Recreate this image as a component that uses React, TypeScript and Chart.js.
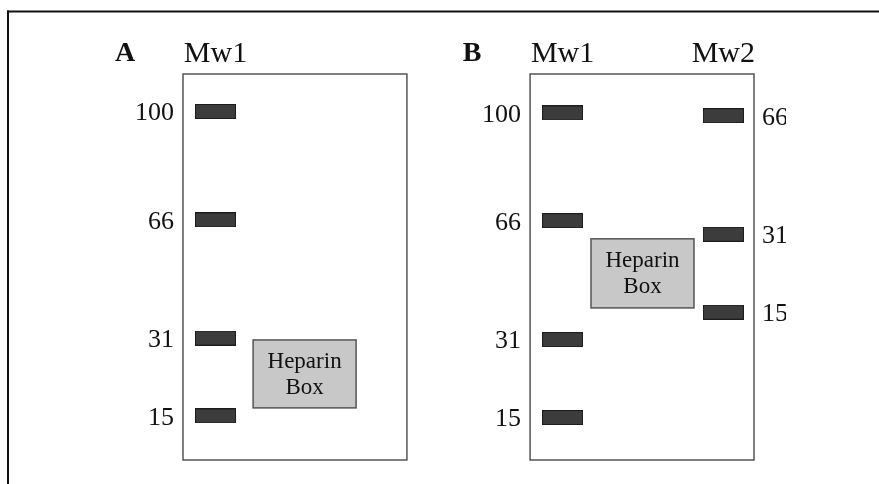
import React, { useEffect, useRef } from 'react';
import { Chart, registerables } from 'chart.js';

Chart.register(...registerables);

// Panels and lanes
const panelLetters = ['A', 'B'];
const gelRanges: number[][] = [[0, 10], [15.5, 25.5]]; // x-extent of each gel (lane units)
const laneNames = ['Mw1', 'Mw1', 'Mw2'];
const lanePanel = [0, 1, 1];
const lanePositions = [1.45, 16.95, 24.13];
const laneLabelSide = ['left', 'left', 'right'];

// Marker molecular weights (kDa) and migration distance (% of gel length)
const mwA1 = [100, 66, 31, 15];
const migA1 = [9.7, 37.8, 68.4, 88.6];
const mwB1 = [100, 66, 31, 15];
const migB1 = [10.1, 38.0, 68.8, 89.0];
const mwB2 = [66, 31, 15];
const migB2 = [10.8, 41.5, 61.7];

// Heparin box extents per panel
const heparinX: number[][] = [[3.13, 7.73], [18.22, 22.82]];
const heparinY: number[][] = [[68.9, 86.5], [42.7, 60.6]];
const heparinText = ['Heparin', 'Box'];

const laneMW = [mwA1, mwB1, mwB2];
const laneMig = [migA1, migB1, migB2];

const SERIF = '"Liberation Serif", "Times New Roman", serif';
const TEXT = '#111';

function makeBand(): HTMLCanvasElement {
  const c = document.createElement('canvas');
  c.width = 41;
  c.height = 15;
  const g = c.getContext('2d')!;
  g.fillStyle = '#3c3c3c';
  g.fillRect(0, 0, 41, 15);
  g.strokeStyle = '#1c1c1c';
  g.lineWidth = 1;
  g.strokeRect(0.5, 0.5, 40, 14);
  return c;
}

const gelPlugin = {
  id: 'gelPlugin',
  beforeDatasetsDraw(chart: any) {
    const { ctx, scales } = chart;
    const x = scales.x;
    const y = scales.y;
    ctx.save();
    // gel outlines
    gelRanges.forEach(([a, b]) => {
      const l = x.getPixelForValue(a);
      const r = x.getPixelForValue(b);
      const t = y.getPixelForValue(0);
      const bt = y.getPixelForValue(100);
      ctx.strokeStyle = '#555';
      ctx.lineWidth = 1.5;
      ctx.strokeRect(l, t, r - l, bt - t);
    });
    // heparin boxes
    heparinX.forEach((hx, i) => {
      const l = x.getPixelForValue(hx[0]);
      const r = x.getPixelForValue(hx[1]);
      const t = y.getPixelForValue(heparinY[i][0]);
      const bt = y.getPixelForValue(heparinY[i][1]);
      ctx.fillStyle = '#c8c8c8';
      ctx.fillRect(l, t, r - l, bt - t);
      ctx.strokeStyle = '#555';
      ctx.lineWidth = 1.5;
      ctx.strokeRect(l, t, r - l, bt - t);
      ctx.fillStyle = TEXT;
      ctx.font = `23px ${SERIF}`;
      ctx.textAlign = 'center';
      ctx.textBaseline = 'middle';
      const cx = (l + r) / 2;
      const cy = (t + bt) / 2;
      ctx.fillText(heparinText[0], cx, cy - 12);
      ctx.fillText(heparinText[1], cx, cy + 14);
    });
    ctx.restore();
  },
  afterDatasetsDraw(chart: any) {
    const { ctx, scales } = chart;
    const x = scales.x;
    const y = scales.y;
    ctx.save();
    ctx.fillStyle = TEXT;
    const top = y.getPixelForValue(0);
    // lane headers
    laneNames.forEach((name, i) => {
      ctx.font = `30px ${SERIF}`;
      ctx.textAlign = 'center';
      ctx.textBaseline = 'alphabetic';
      ctx.fillText(name, x.getPixelForValue(lanePositions[i]), top - 12);
    });
    // panel letters
    panelLetters.forEach((p, i) => {
      ctx.font = `bold 28px ${SERIF}`;
      ctx.textAlign = 'center';
      ctx.textBaseline = 'alphabetic';
      ctx.fillText(p, x.getPixelForValue(gelRanges[i][0]) - 58, top - 13);
    });
    // MW labels
    laneMW.forEach((mws, li) => {
      const [a, b] = gelRanges[lanePanel[li]];
      const side = laneLabelSide[li];
      ctx.save();
      if (side === 'right') {
        ctx.beginPath();
        ctx.rect(0, 0, 786, chart.height);
        ctx.clip();
      }
      ctx.font = `26px ${SERIF}`;
      ctx.textBaseline = 'middle';
      mws.forEach((mw, k) => {
        const py = y.getPixelForValue(laneMig[li][k]) + 2;
        if (side === 'left') {
          ctx.textAlign = 'right';
          ctx.fillText(String(mw), x.getPixelForValue(a) - 9, py);
        } else {
          ctx.textAlign = 'left';
          ctx.fillText(String(mw), x.getPixelForValue(b) + 8, py);
        }
      });
      ctx.restore();
    });
    // outer frame (top and left rules)
    ctx.fillStyle = '#111';
    ctx.fillRect(7, 10.5, chart.width - 7, 2);
    ctx.fillRect(7, 10.5, 2, chart.height - 10.5);
    ctx.restore();
  },
};

export default function App() {
  const ref = useRef<HTMLCanvasElement>(null);
  useEffect(() => {
    if (!ref.current) return;
    const band = makeBand();
    const datasets = laneMW.map((mws, li) => ({
      label: `${panelLetters[lanePanel[li]]} ${laneNames[li]}`,
      data: mws.map((mw, k) => ({ x: lanePositions[li], y: laneMig[li][k], mw })),
      pointStyle: band as any,
      pointRadius: 5,
      pointHoverRadius: 5,
      showLine: false,
    }));
    const chart = new Chart(ref.current, {
      type: 'scatter',
      data: { datasets },
      options: {
        animation: false,
        responsive: false,
        events: [],
        layout: { padding: { left: 183, right: 125, top: 74, bottom: 24 } },
        plugins: { legend: { display: false }, tooltip: { enabled: false }, title: { display: false } },
        scales: {
          x: { type: 'linear', min: 0, max: 25.5, display: false },
          y: { type: 'linear', min: 0, max: 100, reverse: true, display: false },
        },
      },
      plugins: [gelPlugin],
    });
    return () => chart.destroy();
  }, []);
  return (
    <div style={{ position: 'absolute', left: 0, top: 0, width: 879, height: 484, background: '#fff' }}>
      <canvas ref={ref} width={879} height={484} style={{ display: 'block', width: 879, height: 484 }} />
    </div>
  );
}
